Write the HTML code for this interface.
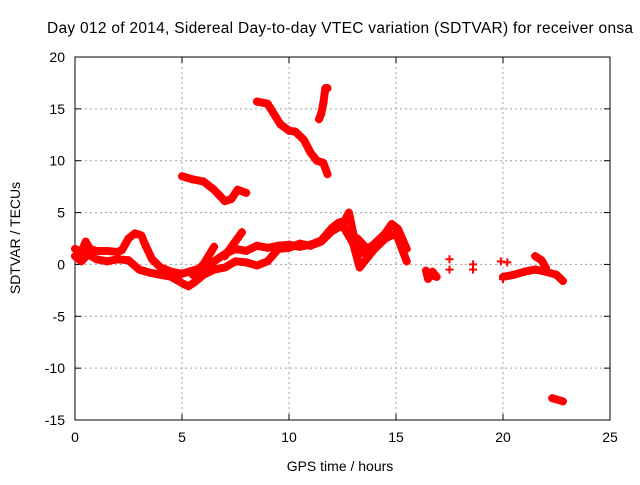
<!DOCTYPE html>
<html><head><meta charset="utf-8"><style>
body{margin:0;background:#fff;}
svg text{font-family:"Liberation Sans",sans-serif;font-size:14px;fill:#000;}
</style></head><body>
<svg id="chart" width="640" height="480" viewBox="0 0 640 480" xmlns="http://www.w3.org/2000/svg">
<text x="340" y="33" text-anchor="middle" textLength="586" style="font-size:15.5px">Day 012 of 2014, Sidereal Day-to-day VTEC variation (SDTVAR) for receiver onsa</text>
<text x="340" y="471" text-anchor="middle">GPS time / hours</text>
<text transform="translate(20,238) rotate(-90)" text-anchor="middle">SDTVAR / TECUs</text>
<g id="grid"></g><g id="axes"></g><g id="marks"></g>
</svg>
<script>
const xTicks=[0,5,10,15,20,25];
const yTicks=[20,15,10,5,0,-5,-10,-15];
const seg1=[[0,1.5],[0.3,1.2],[0.5,2.2],[0.7,1.5],[1,1.3],[1.5,1.3],[2,1.2],[2.2,1.4],[2.5,2.5],[2.8,3.0],[3.1,2.8],[3.3,1.8],[3.6,0.5],[4,-0.3],[4.5,-0.7],[5,-0.9],[5.5,-0.6],[6,-0.3],[6.5,0.3],[7,1.0],[7.5,1.5],[8,1.3],[8.5,1.8],[9,1.6],[9.5,1.8],[10,1.9],[10.5,1.7],[11,1.9],[11.5,2.3],[12,3.5],[12.3,4.0],[12.6,4.2],[12.8,5.0],[13,3.0],[13.3,1.0],[13.7,1.5],[14,2],[14.5,3.0],[14.8,3.9],[15.1,3.4],[15.5,1.5]];
const seg2=[[0,0.8],[0.3,0.3],[0.6,1.0],[1,0.5],[1.5,0.3],[2,0.5],[2.5,0.4],[3,-0.5],[3.5,-0.8],[4,-1.0],[4.5,-1.2],[5,-1.8],[5.3,-2.1],[5.6,-1.7],[6,-1.0],[6.5,-0.5],[7,-0.3],[7.5,0.3],[8,0.2],[8.5,-0.1],[9,0.3],[9.5,1.5],[10,1.6],[10.5,2],[11,1.8],[11.5,2.2],[12,3.2],[12.5,3.8],[13,2.0],[13.3,-0.3],[13.8,1],[14,1.5],[14.5,2.5],[15,3],[15.5,0.3]];
const seg3=[[5,8.5],[5.5,8.2],[6,8.0],[6.5,7.2],[7,6.1],[7.3,6.3],[7.6,7.2],[8,6.9]];
const seg4=[[8.5,15.7],[9,15.5],[9.3,14.5],[9.6,13.5],[10,12.9],[10.3,12.8],[10.7,12.0],[11,10.8],[11.3,10],[11.6,9.8],[11.8,8.7]];
const seg5=[[11.4,14],[11.5,14.5],[11.6,15.5],[11.7,17],[11.8,17]];
const seg6=[[16.4,-0.6],[16.5,-1.4],[16.7,-0.7],[16.9,-1.2],[16.6,-1.0]];
const seg7=[[20,-1.2],[20.5,-1.0],[21,-0.7],[21.5,-0.5],[22,-0.7],[22.5,-1],[22.8,-1.6]];
const seg8=[[21.5,0.8],[21.8,0.4],[22,-0.3]];
const seg9=[[22.3,-12.9],[22.8,-13.2]];
const seg10=[[5.5,-1],[6,0],[6.5,1.7]];
const seg11=[[7,0.8],[7.8,3.1]];
const seg12=[[13.2,2.5],[13.6,1.6],[14,1.8]];
const isolated=[[17.5,0.5],[17.5,-0.5],[18.6,0],[18.6,-0.5],[19.9,0.3],[20.2,0.2],[20,-1.4]];
const segments=[seg1,seg2,seg3,seg4,seg5,seg6,seg7,seg8,seg9,seg10,seg11,seg12];
const X0=75,X1=610,Y0=57,Y1=420;
function xs(h){return X0+(h-0)/(25-0)*(X1-X0);}
function ys(v){return Y1-(v+15)/(20+15)*(Y1-Y0);}
const NS="http://www.w3.org/2000/svg";
function mk(t,a,p){const e=document.createElementNS(NS,t);for(const k in a)e.setAttribute(k,a[k]);p.appendChild(e);return e;}
const grid=document.getElementById('grid'),axes=document.getElementById('axes'),marks=document.getElementById('marks');
xTicks.forEach(t=>{const x=xs(t);
 if(t>0&&t<25){const g=mk('line',{x1:x,x2:x,y1:Y0,y2:Y1,stroke:'#a0a0a0','stroke-dasharray':'2,3'},grid);
 }
 mk('line',{x1:x,x2:x,y1:Y1,y2:Y1-6,stroke:'#000'},axes);mk('line',{x1:x,x2:x,y1:Y0,y2:Y0+6,stroke:'#000'},axes);
 const l=mk('text',{x:x,y:Y1+22,'text-anchor':'middle'},axes);l.textContent=t;
 });
yTicks.forEach(t=>{const y=ys(t);
 if(t>-15&&t<20){const g=mk('line',{x1:X0,x2:X1,y1:y,y2:y,stroke:'#a0a0a0','stroke-dasharray':'2,3'},grid);
 }
 mk('line',{x1:X0,x2:X0+6,y1:y,y2:y,stroke:'#000'},axes);mk('line',{x1:X1,x2:X1-6,y1:y,y2:y,stroke:'#000'},axes);
 const l=mk('text',{x:X0-10,y:y+5,'text-anchor':'end'},axes);l.textContent=t;
 });
const fr=mk('rect',{x:X0,y:Y0,width:X1-X0,height:Y1-Y0,fill:'none',stroke:'#000'},axes);

function plus(h,v){const x=xs(h),y=ys(v);
 const p=mk('path',{d:`M${x-4},${y}H${x+4}M${x},${y-4}V${y+4}`,stroke:'#f00','stroke-width':2},marks);
 }
segments.forEach(s=>{
 const pl=mk('polyline',{points:s.map(p=>xs(p[0])+','+ys(p[1])).join(' '),fill:'none',stroke:'#f00','stroke-width':8,'stroke-linejoin':'round','stroke-linecap':'round'},marks);
 
 s.forEach(p=>plus(p[0],p[1]));});
isolated.forEach(p=>plus(p[0],p[1]));
</script>
</body></html>
